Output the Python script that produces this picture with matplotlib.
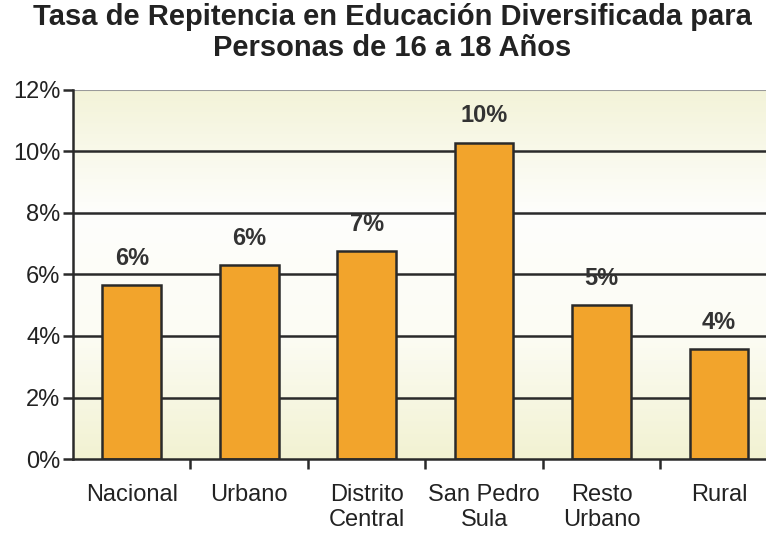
import numpy as np
import matplotlib.pyplot as plt
from matplotlib.colors import LinearSegmentedColormap

categories = ['Nacional', 'Urbano', 'Distrito\nCentral', 'San Pedro\nSula', 'Resto\nUrbano', 'Rural']
values = [5.65, 6.3, 6.75, 10.28, 5.0, 3.57]
labels = ['6%', '6%', '7%', '10%', '5%', '4%']
yticks = [0, 2, 4, 6, 8, 10, 12]

plt.rcParams['font.family'] = ['Liberation Sans Narrow', 'Liberation Sans', 'DejaVu Sans']

fig = plt.figure(figsize=(7.66, 5.35), dpi=100)
ax = fig.add_axes([0.0953, 0.142, 0.92, 0.69])

x = np.arange(len(categories))
ax.set_xlim(-0.5, len(categories) - 0.5)
ax.set_ylim(0, 12)

# background: pale yellow at top and bottom, white in the middle
cmap = LinearSegmentedColormap.from_list('bg', ['#f2f2d2', '#fcfcf4', '#fefefc', '#f3f3d8'])
grad = np.linspace(0, 1, 256).reshape(-1, 1)
ax.imshow(grad, cmap=cmap, aspect='auto', extent=(-0.5, len(categories) - 0.5, 12, 0), zorder=0)

for y in yticks[1:-1]:
    ax.axhline(y, color='#2a2a2a', lw=1.8, zorder=1)
ax.axhline(12, color='#9a9a9a', lw=1.5, zorder=1)

ax.bar(x, values, width=0.5, color='#f2a42c', edgecolor='#2a2a2a', linewidth=1.8, zorder=2)
for xi, v, t in zip(x, values, labels):
    ax.text(xi, v + 0.5, t, ha='center', va='bottom', fontsize=17, fontweight='bold', color='#333333')

ax.set_yticks(yticks)
ax.set_yticklabels([f'{t}%' for t in yticks], fontsize=17, color='#222222')
ax.set_xticks(x)
ax.set_xticklabels(categories, fontsize=17, color='#222222', linespacing=1.15)
ax.set_xticks(np.arange(0.5, len(categories) - 0.5, 1), minor=True)
ax.tick_params(axis='x', which='major', length=0, pad=18)
ax.tick_params(axis='x', which='minor', length=7, width=1.8, direction='out', color='#2a2a2a')
ax.tick_params(axis='y', length=7, width=1.8, direction='out', color='#2a2a2a', pad=2)

for s in ['top', 'right']:
    ax.spines[s].set_visible(False)
ax.spines['left'].set_linewidth(1.8)
ax.spines['left'].set_color('#2a2a2a')
ax.spines['bottom'].set_linewidth(1.8)
ax.spines['bottom'].set_color('#2a2a2a')

fig.text(0.512, 0.995, 'Tasa de Repitencia en Educación Diversificada para\nPersonas de 16 a 18 Años',
         ha='center', va='top', fontsize=21, fontweight='bold', color='#222222', linespacing=1.15)

fig.savefig('out.png', dpi=100)
